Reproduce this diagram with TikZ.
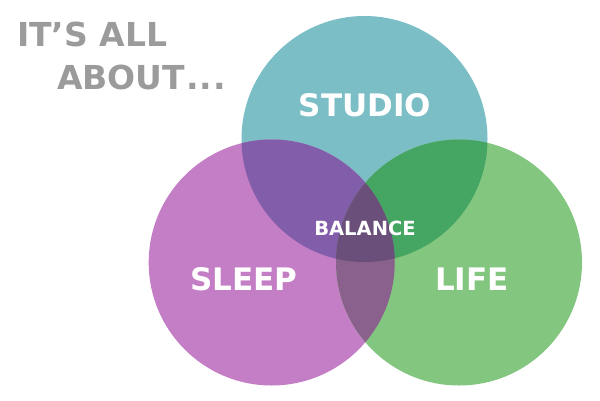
\documentclass[tikz,border=0pt]{standalone}
\usepackage{fontspec}
\setmainfont{DejaVu Sans}

\definecolor{studiocol}{HTML}{7BBEC6}
\definecolor{sleepcol}{HTML}{C47EC5}
\definecolor{lifecol}{HTML}{82C680}
\definecolor{studsleepcol}{HTML}{825DAA}
\definecolor{studlifecol}{HTML}{45A562}
\definecolor{sleeplifecol}{HTML}{8A618C}
\definecolor{balancecol}{HTML}{6A4F7B}
\definecolor{titlecol}{HTML}{9B9B9B}

\newcommand{\rad}{123pt}

\begin{document}
\begin{tikzpicture}[x=1pt,y=-1pt]
          \tikzset{bigword/.style = {
              text = white,
              inner sep = 0pt,
              font = \bfseries\fontsize{31}{31}\selectfont},
            smallword/.style = {
              text = white,
              inner sep = 0pt,
              font = \bfseries\fontsize{19.5}{19.5}\selectfont},
            titleword/.style = {
              text = titlecol,
              inner sep = 0pt,
              anchor = base west,
              font = \bfseries\fontsize{33}{33}\selectfont}}
          \useasboundingbox (0,0) rectangle (600,400);
          \coordinate (studio) at (364.5,139);
          \coordinate (sleep) at (271.7,262.5);
          \coordinate (life) at (459,262.5);
          %% the three circles
          \fill[studiocol] (studio) circle[radius=\rad];
          \fill[sleepcol] (sleep) circle[radius=\rad];
          \fill[lifecol] (life) circle[radius=\rad];
          %% overlaps
          \begin{scope}
            \clip (studio) circle[radius=\rad];
            \fill[studsleepcol] (sleep) circle[radius=\rad];
            \fill[studlifecol] (life) circle[radius=\rad];
          \end{scope}
          \begin{scope}
            \clip (sleep) circle[radius=\rad];
            \fill[sleeplifecol] (life) circle[radius=\rad];
          \end{scope}
          \begin{scope}
            \clip (studio) circle[radius=\rad];
            \clip (sleep) circle[radius=\rad];
            \fill[balancecol] (life) circle[radius=\rad];
          \end{scope}
          %% labels
          \node[bigword] (studiotext) at (365,105) {STUDIO};
          \node[bigword] (sleeptext) at (244,279) {SLEEP};
          \node[bigword] (lifetext) at (472,279) {LIFE};
          \node[smallword] (balancetext) at (365,228) {BALANCE};
          \node[titleword] (titleone) at (17,46) {IT’S ALL};
          \node[titleword] (titletwo) at (57,89) {ABOUT\kern1pt.\kern1pt.\kern1pt.};
        \end{tikzpicture}
\end{document}
